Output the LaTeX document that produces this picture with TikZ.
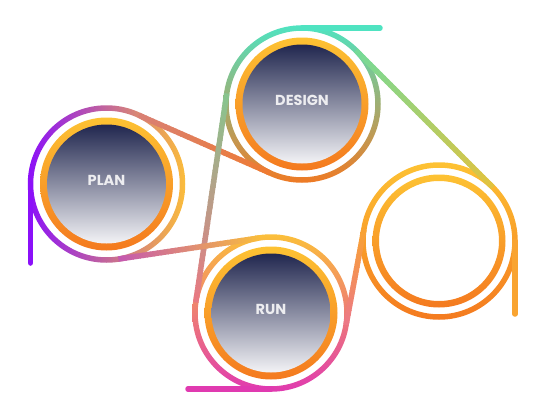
\documentclass[tikz,border=0pt]{standalone}
\usepackage{fontspec}
\setmainfont{Poppins}
\usetikzlibrary{calc}
\definecolor{navy}{HTML}{21274F}
\definecolor{pale}{HTML}{F3F3F6}
\definecolor{labelgray}{HTML}{EDEDF0}
\definecolor{ringtop}{HTML}{FDC233}
\definecolor{ringbot}{HTML}{F47A1F}
\definecolor{purp}{HTML}{8B10F9}
\definecolor{plmid}{HTML}{C45CB2}
\definecolor{plright}{HTML}{FBBD3B}
\definecolor{dteal}{HTML}{4FE3C1}
\definecolor{dbot}{HTML}{EF7A24}
\definecolor{rtop}{HTML}{FBBF3A}
\definecolor{rbot}{HTML}{E03AB0}
\definecolor{aone}{HTML}{D98075}
\definecolor{atwo}{HTML}{EF7B30}
\definecolor{bone}{HTML}{C458B0}
\definecolor{btwo}{HTML}{F9BD3C}
\definecolor{cone}{HTML}{E97882}
\definecolor{ctwo}{HTML}{86C68E}
\definecolor{done}{HTML}{74DA98}
\definecolor{dtwo}{HTML}{E3C33E}
\definecolor{eone}{HTML}{EC7888}
\definecolor{etwo}{HTML}{F9A431}
\definecolor{stuborange}{HTML}{F9A431}
\tikzset{
  disk/.style={circle, inner sep=0pt, outer sep=0pt, minimum size=119pt,
    top color=navy, bottom color=pale, text=labelgray,
    font=\bfseries\fontsize{14.5}{15}\selectfont, text depth=8pt},
  trackpt/.style={circle, inner sep=0pt, outer sep=0pt, minimum size=152pt},
  trackline/.style={line width=5.5pt, line cap=butt},
  stub/.style={line width=5.5pt, line cap=round},
}
\newcommand\ringat[2]{\shade[even odd rule, top color=ringtop, bottom color=ringbot] (#1) circle[radius=66.5pt] (#1) circle[radius=#2pt];}
\newcommand\gline[4]{%
  \foreach \k in {0,...,39}{%
    \pgfmathsetmacro\pa{\k/40}%
    \pgfmathsetmacro\pb{min(1,(\k+1.3)/40)}%
    \pgfmathtruncatemacro\pc{100*(\k+0.5)/40}%
    \draw[trackline, draw=#4!\pc!#3] ($#1!\pa!#2$) -- ($#1!\pb!#2$);
  }}
\begin{document}
\begin{tikzpicture}[x=1pt,y=-1pt]
\useasboundingbox (0,0) rectangle (542,418);
% track reference circles
\node[trackpt] (plantrack) at (106.5,184) {};
\node[trackpt] (designtrack) at (302,104) {};
\node[trackpt] (runtrack) at (271,313) {};
\node[trackpt] (emptytrack) at (439,241) {};
\coordinate (planend) at (30.5,263);
\coordinate (designend) at (380,28);
\coordinate (runend) at (188,389);
\coordinate (emptyend) at (515,314);
% track rings
\shade[even odd rule, left color=purp, middle color=plmid, right color=plright]
  (plantrack.center) circle[radius=78.75pt] (plantrack.center) circle[radius=73.25pt];
\shade[even odd rule, top color=dteal, bottom color=dbot]
  (designtrack.center) circle[radius=78.75pt] (designtrack.center) circle[radius=73.25pt];
\shade[even odd rule, top color=rtop, bottom color=rbot]
  (runtrack.center) circle[radius=78.75pt] (runtrack.center) circle[radius=73.25pt];
\shade[even odd rule, top color=ringtop, bottom color=ringbot]
  (emptytrack.center) circle[radius=78.75pt] (emptytrack.center) circle[radius=73.25pt];
% orange rings
\ringat{plantrack.center}{59}
\ringat{designtrack.center}{59}
\ringat{runtrack.center}{59}
\ringat{emptytrack.center}{60}
% disks
\node[disk] (plan) at (106.5,184) {PLAN};
\node[disk] (design) at (302,104) {DESIGN};
\node[disk] (run) at (271,313) {RUN};
% stubs
\draw[stub, draw=purp] (plantrack.180) -- (planend);
\draw[stub, draw=dteal] (designtrack.90) -- (designend);
\draw[stub, draw=rbot] (runtrack.270) -- (runend);
\draw[stub, draw=stuborange] (emptytrack.0) -- (emptyend);
% connecting lines
\gline{(plantrack.65)}{(designtrack.245)}{aone}{atwo}
\gline{(runtrack.172)}{(designtrack.172)}{cone}{ctwo}
\gline{(plantrack.279)}{(runtrack.99)}{bone}{btwo}
\gline{(designtrack.45)}{(emptytrack.45)}{done}{dtwo}
\gline{(runtrack.351)}{(emptytrack.171)}{eone}{etwo}
\end{tikzpicture}
\end{document}
